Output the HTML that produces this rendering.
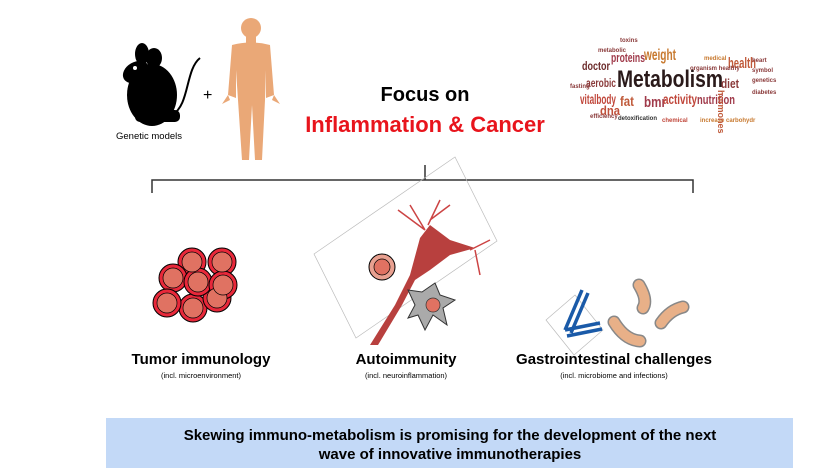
<!DOCTYPE html>
<html><head><style>
body{margin:0;width:825px;height:475px;background:#fff;position:relative;overflow:hidden;font-family:"Liberation Sans",sans-serif}
.t{position:absolute;white-space:nowrap;text-align:center;transform:translateX(-50%)}
</style></head><body>
<svg width="825" height="475" style="position:absolute;left:0;top:0">
<!-- mouse -->
<g fill="#000">
<ellipse cx="152" cy="95" rx="25" ry="31"/>
<ellipse cx="136" cy="72" rx="14" ry="10" transform="rotate(-30 136 72)"/>
<ellipse cx="142" cy="54" rx="7" ry="11"/>
<ellipse cx="154" cy="58" rx="8" ry="10"/>
<rect x="135" y="110" width="45" height="12" rx="5"/>
</g>
<circle cx="135" cy="68" r="2" fill="#fff"/>
<path d="M172 115 C190 105 185 70 200 58" stroke="#000" stroke-width="2" fill="none"/>
<text x="203" y="100" font-size="16" font-family="Liberation Sans">+</text>
<!-- human -->
<g fill="#eaa877">
<circle cx="251" cy="28" r="10"/>
<rect x="246" y="36" width="10" height="8"/>
<path d="M232 45 Q251 40 270 45 L274 95 L266 98 L266 70 L265 100 L262 160 L255 160 L252 105 L249 160 L242 160 L238 100 L236 70 L236 98 L228 95 Z"/>
<path d="M228 95 L222 104 L230 100 Z M274 95 L280 104 L272 100 Z"/>
</g>
<!-- word cloud -->
<g font-family="Liberation Sans" font-weight="bold">
<text x="617" y="87" font-size="24" fill="#2a1a1a" textLength="106" lengthAdjust="spacingAndGlyphs">Metabolism</text>
<text x="582" y="70" font-size="12" fill="#6b2a2a" textLength="28" lengthAdjust="spacingAndGlyphs">doctor</text>
<text x="611" y="62" font-size="13" fill="#a03a4a" textLength="34" lengthAdjust="spacingAndGlyphs">proteins</text>
<text x="644" y="60" font-size="16" fill="#c87a30" textLength="32" lengthAdjust="spacingAndGlyphs">weight</text>
<text x="586" y="87" font-size="12" fill="#8a3a3a" textLength="30" lengthAdjust="spacingAndGlyphs">aerobic</text>
<text x="580" y="104" font-size="14" fill="#c0463a" textLength="36" lengthAdjust="spacingAndGlyphs">vitalbody</text>
<text x="600" y="115" font-size="13" fill="#c0503a" textLength="20" lengthAdjust="spacingAndGlyphs">dna</text>
<text x="620" y="106" font-size="14" fill="#c05a3a" textLength="14" lengthAdjust="spacingAndGlyphs">fat</text>
<text x="644" y="107" font-size="15" fill="#a03a4a" textLength="22" lengthAdjust="spacingAndGlyphs">bmr</text>
<text x="663" y="104" font-size="14" fill="#c0463a" textLength="34" lengthAdjust="spacingAndGlyphs">activity</text>
<text x="697" y="104" font-size="13" fill="#a03a4a" textLength="38" lengthAdjust="spacingAndGlyphs">nutrition</text>
<text x="728" y="68" font-size="15" fill="#c05a3a" textLength="28" lengthAdjust="spacingAndGlyphs">health</text>
<text x="721" y="88" font-size="13" fill="#8a3a3a" textLength="18" lengthAdjust="spacingAndGlyphs">diet</text>
<text x="590" y="118" font-size="6" fill="#8a3a3a">efficiency</text>
<text x="618" y="120" font-size="6" fill="#333">detoxification</text>
<text x="662" y="122" font-size="6" fill="#c0463a">chemical</text>
<text x="700" y="122" font-size="6" fill="#c87a30">increase carbohydr</text>
<text x="704" y="60" font-size="6" fill="#c87a30">medical</text>
<text x="690" y="70" font-size="6" fill="#8a3a3a">organism healthy</text>
<text x="752" y="62" font-size="6" fill="#8a3a3a">heart</text>
<text x="752" y="72" font-size="6" fill="#8a3a3a">symbol</text>
<text x="752" y="82" font-size="6" fill="#8a3a3a">genetics</text>
<text x="752" y="94" font-size="6" fill="#8a3a3a">diabetes</text>
<text x="598" y="52" font-size="6" fill="#8a3a3a">metabolic</text>
<text x="620" y="42" font-size="6" fill="#8a3a3a">toxins</text>
<text x="570" y="88" font-size="6" fill="#8a3a3a">fasting</text>
<text x="740" y="112" font-size="9" fill="#c05a3a" transform="rotate(90 740 90)">hormones</text>
</g>
<!-- bracket -->
<g stroke="#333" stroke-width="1.5" fill="none">
<path d="M152 193 V180 H693 V193 M425 180 V165"/>
</g>
<!-- tumor cells -->
<g stroke="#000" stroke-width="1" fill="#e8283a">
<circle cx="192" cy="262" r="14"/><circle cx="222" cy="262" r="14"/>
<circle cx="173" cy="278" r="14"/><circle cx="193" cy="308" r="14"/>
<circle cx="167" cy="303" r="14"/><circle cx="217" cy="298" r="14"/>
<circle cx="198" cy="282" r="14"/><circle cx="223" cy="285" r="14"/>
</g>
<g stroke="#000" stroke-width=".7" fill="#e07262">
<circle cx="192" cy="262" r="10"/><circle cx="222" cy="262" r="10"/>
<circle cx="173" cy="278" r="10"/><circle cx="193" cy="308" r="10"/>
<circle cx="167" cy="303" r="10"/><circle cx="217" cy="298" r="10"/>
<circle cx="198" cy="282" r="10"/><circle cx="223" cy="285" r="10"/>
</g>
<!-- autoimmunity -->
<polygon points="314,254 455,157 497,241 356,338" fill="none" stroke="#bbb" stroke-width=".7"/>
<path d="M370 345 L395 305 L410 275 L420 238 L430 225 L450 240 L475 248 L450 255 L430 270 L415 280 L402 305 L378 345 Z" fill="#b8403e"/>
<path d="M425 230 L410 205 M428 225 L440 200 M430 220 L450 205 M470 250 L490 240 M425 230 L398 210 M475 250 L480 275" stroke="#c44" stroke-width="1.5" fill="none"/>
<circle cx="382" cy="267" r="13" fill="#e8a090" stroke="#000"/>
<circle cx="382" cy="267" r="8" fill="#e07262" stroke="#000" stroke-width=".7"/>
<path d="M435 283 L440 295 L455 300 L443 308 L447 325 L433 315 L425 330 L418 315 L408 318 L415 305 L408 290 L422 292 Z" fill="#aaa" stroke="#333"/>
<circle cx="433" cy="305" r="7" fill="#e07262" stroke="#333" stroke-width=".7"/>
<!-- GI -->
<polygon points="546,320 575,295 603,330 574,355" fill="none" stroke="#bbb" stroke-width=".7"/>
<path d="M582 290 L565 330 M588 293 L571 333 M565 330 L600 323 M567 336 L602 329" stroke="#1a5aa8" stroke-width="3.5" fill="none"/>
<g stroke="#888" stroke-width="13" stroke-linecap="round" fill="none">
<path d="M614 322 Q625 340 640 341"/>
<path d="M639 285 Q648 300 643 308"/>
<path d="M661 323 Q670 310 683 307"/>
</g>
<g stroke="#e8b088" stroke-width="10" stroke-linecap="round" fill="none">
<path d="M614 322 Q625 340 640 341"/>
<path d="M639 285 Q648 300 643 308"/>
<path d="M661 323 Q670 310 683 307"/>
</g>
</svg>
<div class="t" style="left:425px;top:84px;font-size:20px;font-weight:bold">Focus on</div>
<div class="t" style="left:425px;top:112px;font-size:22px;font-weight:bold;color:#e8141c">Inflammation &amp; Cancer</div>
<div class="t" style="left:149px;top:131px;font-size:9.5px">Genetic models</div>
<div class="t" style="left:201px;top:351px;font-size:15px;font-weight:bold">Tumor immunology</div>
<div class="t" style="left:201px;top:371px;font-size:7.5px">(incl. microenvironment)</div>
<div class="t" style="left:406px;top:351px;font-size:15px;font-weight:bold">Autoimmunity</div>
<div class="t" style="left:406px;top:371px;font-size:7.5px">(incl. neuroinflammation)</div>
<div class="t" style="left:614px;top:351px;font-size:15px;font-weight:bold">Gastrointestinal challenges</div>
<div class="t" style="left:614px;top:371px;font-size:7.5px">(incl. microbiome and infections)</div>
<div style="position:absolute;left:106px;top:418px;width:687px;height:50px;background:#c3d9f7"></div>
<div class="t" style="left:450px;top:426px;font-size:15px;font-weight:bold;line-height:19px">Skewing immuno-metabolism is promising for the development of the next<br>wave of innovative immunotherapies</div>
</body></html>
